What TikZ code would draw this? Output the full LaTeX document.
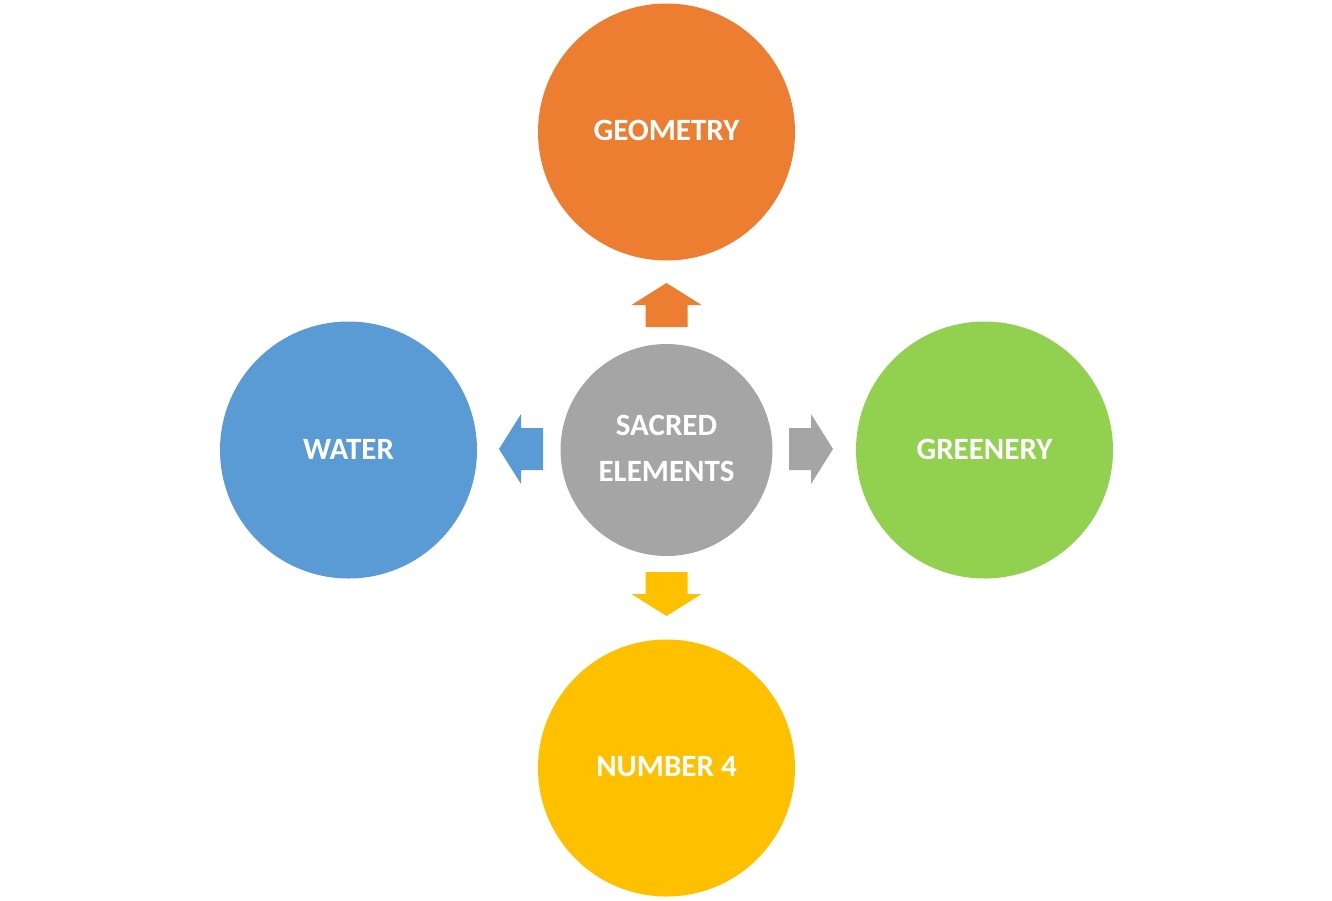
\documentclass[tikz,border=0pt]{standalone}
\usepackage{fontspec}
\setmainfont{Carlito}
\definecolor{cOrange}{HTML}{ED7D31}
\definecolor{cBlue}{HTML}{5B9BD5}
\definecolor{cGreen}{HTML}{92D050}
\definecolor{cGold}{HTML}{FFC000}
\definecolor{cGray}{HTML}{A5A5A5}
\tikzset{
  bigcirc/.style={circle, minimum size=257pt, inner sep=0pt, text=white,
    font=\fontsize{31}{46}\selectfont\bfseries, align=center},
  hubcirc/.style={circle, minimum size=212pt, inner sep=0pt, text=white,
    font=\fontsize{31}{46}\selectfont\bfseries, align=center, fill=cGray},
  blockarrow/.pic={\fill (0,-21) -- (22,-21) -- (22,-35) -- (44,0) -- (22,35) -- (22,21) -- (0,21) -- cycle;}
}
\begin{document}
\begin{tikzpicture}[x=1pt,y=-1pt]
\useasboundingbox (0,0) rectangle (1332,900);
\node[hubcirc] (hub) at (666.5,450) {};
\node[bigcirc, fill=cOrange] (geo) at (666.5,132) {};
\node[bigcirc, fill=cBlue] (water) at (348.5,450) {};
\node[bigcirc, fill=cGreen] (green) at (984.5,450) {};
\node[bigcirc, fill=cGold] (num) at (666.5,768) {};
\node[hubcirc, fill=none, minimum size=0pt] (hubtext) at ([yshift=1.5pt]hub.center) {SACRED\\ELEMENTS};
\node[bigcirc, minimum size=0pt] (geotext) at ([yshift=2pt]geo.center) {GEOMETRY};
\node[bigcirc, minimum size=0pt] (watertext) at ([yshift=1pt]water.center) {WATER};
\node[bigcirc, minimum size=0pt] (greentext) at ([yshift=1pt]green.center) {GREENERY};
\node[bigcirc, minimum size=0pt] (numtext) at ([yshift=1pt]num.center) {NUMBER 4};
\pic[fill=cOrange, rotate=90] at (666.5,327) {blockarrow};
\pic[fill=cBlue, rotate=180] at (543,449) {blockarrow};
\pic[fill=cGray] at (789,449) {blockarrow};
\pic[fill=cGold, rotate=-90] at (666.5,572) {blockarrow};
\end{tikzpicture}
\end{document}
